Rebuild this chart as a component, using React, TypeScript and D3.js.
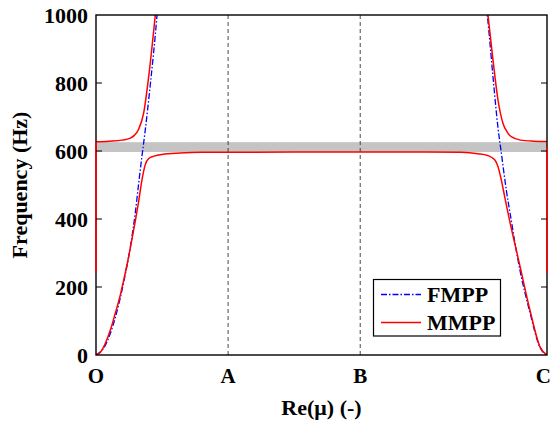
import React from "react";
import * as d3 from "d3";

// Path O-A-B-C positions along Re(mu)
const pathLabels = ["O", "A", "B", "C"];
const pathPositions = [0, 1, 2, 3.414];
const freqTicks = [0, 200, 400, 600, 800, 1000];

// Band gap (Hz)
const gapLow = 597;
const gapHigh = 626;

// FMPP branches [Re(mu), frequency]
const fmppLeft: [number, number][] = [
  [0, 0], [0.07, 28], [0.146, 110], [0.21, 215], [0.267, 335], [0.298, 420],
  [0.323, 505], [0.348, 585], [0.373, 662], [0.411, 795], [0.462, 1000], [0.48, 1090],
];
const fmppRight: [number, number][] = [
  [2.934, 1090], [2.962, 1000], [3.005, 819], [3.044, 665], [3.068, 595],
  [3.106, 485], [3.144, 395], [3.169, 335], [3.209, 250], [3.285, 125],
  [3.361, 22], [3.414, 0],
];

// MMPP lower (acoustic) branch, continuous over the whole path
const mmppLower: [number, number][] = [
  [0, 0], [0.035, 9], [0.07, 34], [0.11, 75], [0.146, 123], [0.18, 170],
  [0.21, 221], [0.24, 275], [0.267, 330], [0.298, 395], [0.323, 452],
  [0.348, 515], [0.373, 560], [0.399, 578], [0.44, 585], [0.5, 590],
  [0.636, 594], [0.8, 596], [1.5, 597], [2.5, 597], [2.764, 596], [2.891, 592],
  [2.964, 587], [3.018, 574], [3.043, 554], [3.068, 515], [3.094, 465],
  [3.131, 395], [3.169, 330], [3.209, 262], [3.285, 132], [3.361, 24], [3.414, 0],
];

// MMPP upper branches near O and C
const mmppUpperLeft: [number, number][] = [
  [0, 627], [0.1, 629], [0.197, 632], [0.26, 638], [0.29, 646], [0.323, 664],
  [0.361, 712], [0.399, 819], [0.449, 1000], [0.47, 1080],
];
const mmppUpperRight: [number, number][] = [
  [2.944, 1080], [2.967, 1000], [3.005, 868], [3.043, 750], [3.081, 681],
  [3.114, 655], [3.143, 642], [3.214, 632], [3.314, 629], [3.414, 628],
];

// MMPP segments lying on Re(mu) = O and Re(mu) = C
const mmppEdgeLeft: [number, number][] = [[0, 243], [0, 627]];
const mmppEdgeRight: [number, number][] = [[3.414, 242], [3.414, 612]];

const W = 552;
const H = 421;
const left = 96;
const right = 547;
const top = 15;
const bottom = 355;

const fontFamily = "'Liberation Serif', 'Times New Roman', serif";

export default function App() {
  const x = d3.scaleLinear().domain([0, 3.414]).range([left, right]);
  const y = d3.scaleLinear().domain([0, 1000]).range([bottom, top]);

  const curve = d3
    .line<[number, number]>()
    .x((d) => x(d[0]))
    .y((d) => y(d[1]))
    .curve(d3.curveMonotoneX);
  const straight = d3
    .line<[number, number]>()
    .x((d) => x(d[0]))
    .y((d) => y(d[1]));

  const blueDash = "6,2,1.5,2";

  return (
    <svg width={W} height={H} style={{ position: "absolute", left: 0, top: 0 }}>
      <defs>
        <clipPath id="plotArea">
          <rect x={left} y={top} width={right - left} height={bottom - top} />
        </clipPath>
      </defs>
      <rect width={W} height={H} fill="#fff" />

      {/* band gap */}
      <rect
        x={left}
        y={y(gapHigh)}
        width={right - left}
        height={y(gapLow) - y(gapHigh)}
        fill="#c4c4c4"
      />

      {/* path-point separators */}
      {pathPositions.slice(1, 3).map((p) => (
        <line
          key={p}
          x1={x(p)}
          x2={x(p)}
          y1={top}
          y2={bottom}
          stroke="#333"
          strokeWidth={0.9}
          strokeDasharray="4,3"
        />
      ))}

      <g clipPath="url(#plotArea)" fill="none">
        <path d={curve(fmppLeft) || ""} stroke="#0000ff" strokeWidth={1.3} strokeDasharray={blueDash} />
        <path d={curve(fmppRight) || ""} stroke="#0000ff" strokeWidth={1.3} strokeDasharray={blueDash} />
        <path d={curve(mmppLower) || ""} stroke="#ff0000" strokeWidth={1.5} />
        <path d={curve(mmppUpperLeft) || ""} stroke="#ff0000" strokeWidth={1.5} />
        <path d={curve(mmppUpperRight) || ""} stroke="#ff0000" strokeWidth={1.5} />
      </g>

      {/* axes box */}
      <rect
        x={left}
        y={top}
        width={right - left}
        height={bottom - top}
        fill="none"
        stroke="#000"
        strokeWidth={1.4}
      />
      <path d={straight(mmppEdgeLeft) || ""} stroke="#ff0000" strokeWidth={1.6} fill="none" />
      <path d={straight(mmppEdgeRight) || ""} stroke="#ff0000" strokeWidth={1.6} fill="none" />

      {/* y ticks */}
      {freqTicks.map((t) => (
        <g key={t}>
          {t > 0 && t < 1000 && (
            <>
              <line x1={left} x2={left + 6} y1={y(t)} y2={y(t)} stroke="#000" strokeWidth={1} />
              <line x1={right} x2={right - 6} y1={y(t)} y2={y(t)} stroke="#000" strokeWidth={1} />
            </>
          )}
          <text
            x={left - 8}
            y={y(t)}
            dy="0.35em"
            textAnchor="end"
            fontFamily={fontFamily}
            fontWeight="bold"
            fontSize={22}
          >
            {t}
          </text>
        </g>
      ))}

      {/* x ticks; the last label is kept inside the page edge */}
      {pathPositions.map((p, i) => {
        const last = i === pathPositions.length - 1;
        return (
          <text
            key={pathLabels[i]}
            x={last ? W - 1 : x(p)}
            y={383}
            textAnchor={last ? "end" : "middle"}
            fontFamily={fontFamily}
            fontWeight="bold"
            fontSize={21}
          >
            {pathLabels[i]}
          </text>
        );
      })}

      <text
        x={(left + right) / 2}
        y={415}
        textAnchor="middle"
        fontFamily={fontFamily}
        fontWeight="bold"
        fontSize={22}
      >
        Re(μ) (-)
      </text>
      <text
        transform={`translate(27,${(top + bottom) / 2}) rotate(-90)`}
        textAnchor="middle"
        fontFamily={fontFamily}
        fontWeight="bold"
        fontSize={22}
      >
        Frequency (Hz)
      </text>

      {/* legend */}
      <g>
        <rect x={373.5} y={279.5} width={127} height={56.5} fill="#fff" stroke="#000" strokeWidth={1.2} />
        <line x1={381} x2={421} y1={294.5} y2={294.5} stroke="#0000ff" strokeWidth={1.3} strokeDasharray={blueDash} />
        <text x={427} y={294.5} dy="0.35em" fontFamily={fontFamily} fontWeight="bold" fontSize={22}>
          FMPP
        </text>
        <line x1={381} x2={421} y1={322.5} y2={322.5} stroke="#ff0000" strokeWidth={1.5} />
        <text x={427} y={322.5} dy="0.35em" fontFamily={fontFamily} fontWeight="bold" fontSize={22}>
          MMPP
        </text>
      </g>
    </svg>
  );
}
